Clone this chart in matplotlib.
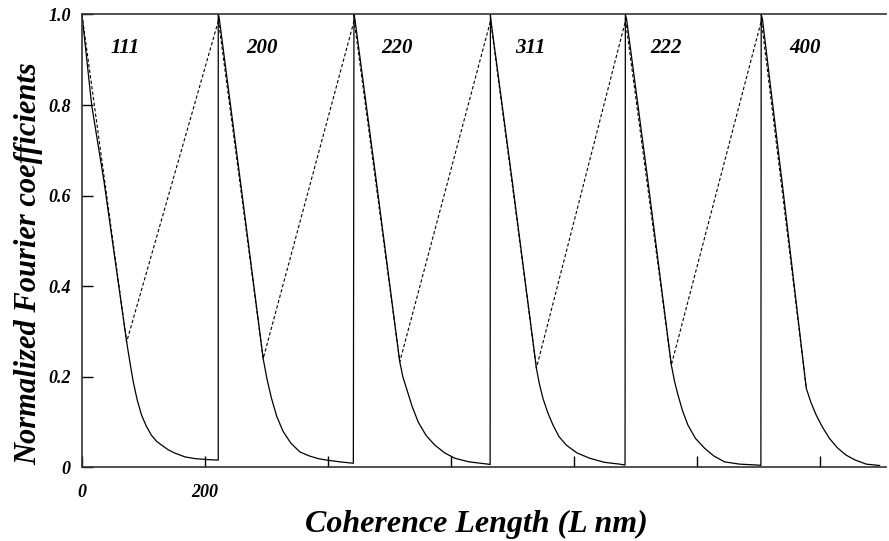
"""
Normalized Fourier coefficients vs. coherence length for six reflections
(111, 200, 220, 311, 222, 400), drawn one after another on a common axis.
"""
import matplotlib
matplotlib.use("Agg")
import matplotlib.pyplot as plt  # noqa: E402

# ---------------------------------------------------------------------
# Data (L in nm, coefficient normalized)
# ---------------------------------------------------------------------
reflexiones = ["111", "200", "220", "311", "222", "400"]

L_111 = [0, 15.8, 36, 72.7, 78, 83.4, 90, 97, 105, 113, 121, 129.6, 140, 150,
         167.5, 185, 205, 221.7]
A_111 = [1.0, 0.80, 0.63, 0.277, 0.232, 0.189, 0.148, 0.115, 0.090, 0.071, 0.058,
         0.049, 0.039, 0.032, 0.023, 0.019, 0.017, 0.016]

L_200 = [221.7, 223, 260, 294.8, 301, 308.4, 317, 327.3, 340, 354.5, 370, 385,
         397.9, 420, 441.5]
A_200 = [1.0, 0.995, 0.608, 0.24, 0.195, 0.152, 0.112, 0.079, 0.053, 0.034, 0.025,
         0.019, 0.016, 0.012, 0.009]

L_220 = [442.5, 444, 480, 517, 522, 528, 537, 547, 560, 574, 590, 606.5, 630,
         660.7, 664.0]
A_220 = [1.0, 0.99, 0.62, 0.233, 0.20, 0.174, 0.135, 0.10, 0.07, 0.049, 0.032,
         0.02, 0.012, 0.007, 0.006]

L_311 = [664.5, 665, 700, 739.3, 744, 750, 758, 766.4, 776, 788, 805, 826, 850,
         874.8, 883.5]
A_311 = [1.0, 0.99, 0.632, 0.219, 0.185, 0.152, 0.12, 0.093, 0.068, 0.049, 0.032,
         0.02, 0.011, 0.007, 0.005]

L_222 = [884, 886, 920, 958.8, 964, 969.6, 977, 985.9, 998, 1013, 1028, 1045.5,
         1070, 1099.7, 1104.5]
A_222 = [1.0, 0.99, 0.64, 0.226, 0.19, 0.16, 0.125, 0.093, 0.064, 0.042, 0.025,
         0.012, 0.007, 0.005, 0.004]

L_400 = [1105, 1107, 1140, 1178.4, 1186, 1194.6, 1205, 1216, 1229, 1243, 1258,
         1276, 1297.6]
A_400 = [1.0, 0.99, 0.618, 0.174, 0.143, 0.115, 0.088, 0.064, 0.043, 0.027, 0.016,
         0.007, 0.004]

# initial-slope (dashed) construction: peak -> hook point -> next peak
L_pico = [0, 221.7, 442.5, 664.5, 884, 1105]
A_pico = [1.0, 0.99, 0.99, 0.99, 0.99, 0.99]
L_gancho = [72.7, 294.8, 517, 739.3, 958.8, 1178.4]
A_gancho = [0.277, 0.24, 0.233, 0.219, 0.226, 0.174]

# label positions above each curve
L_etiqueta = [70, 293.5, 513, 730, 950.7, 1177]
A_etiqueta = [0.925, 0.925, 0.925, 0.925, 0.925, 0.925]

x_ticks = [0, 200, 400, 600, 800, 1000, 1200]
x_tick_labels = ["0", "200", "", "", "", "", ""]
y_ticks = [0, 0.2, 0.4, 0.6, 0.8, 1.0]
y_tick_labels = ["0", "0.2", "0.4", "0.6", "0.8", "1.0"]

# ---------------------------------------------------------------------
fuente = {"family": "Liberation Serif", "weight": "bold", "style": "italic"}

fig = plt.figure(figsize=(8.89, 5.41), dpi=100)
ax = fig.add_axes([0.0922, 0.1362, 0.9044, 0.837])

# solid curve: all segments concatenated (jumps become vertical lines)
L_total = L_111 + L_200 + L_220 + L_311 + L_222 + L_400
A_total = A_111 + A_200 + A_220 + A_311 + A_222 + A_400
ax.plot(L_total, A_total, color="black", linewidth=0.9, clip_on=False)

# dashed construction lines
for i in range(len(L_pico)):
    xs = [L_pico[i], L_gancho[i]]
    ys = [A_pico[i], A_gancho[i]]
    if i + 1 < len(L_pico):
        xs.append(L_pico[i + 1])
        ys.append(A_pico[i + 1] - 0.005)
    ax.plot(xs, ys, color="black", linewidth=0.8, linestyle=(0, (3, 2)))

for txt, x, y in zip(reflexiones, L_etiqueta, A_etiqueta):
    ax.text(x, y, txt, ha="center", va="center", fontsize=15, **fuente)

ax.set_xlim(0, 1308)
ax.set_ylim(0, 1.0)

ax.set_xticks(x_ticks)
ax.set_xticklabels(x_tick_labels, fontsize=13, **fuente)
ax.set_yticks(y_ticks)
ax.set_yticklabels(y_tick_labels, fontsize=13, **fuente)
ax.tick_params(axis="both", direction="in", length=8, width=1.0)
ax.tick_params(axis="x", pad=12)
ax.tick_params(axis="y", pad=8)

for lado in ["left", "bottom", "top"]:
    ax.spines[lado].set_linewidth(1.2)
    ax.spines[lado].set_color("#333333")
ax.spines["right"].set_visible(False)

ax.set_xlabel("Coherence Length (L nm)", fontsize=23, **fuente)
ax.xaxis.set_label_coords(0.49, -0.095)
ax.set_ylabel("Normalized Fourier coefficients", fontsize=22, **fuente)
ax.yaxis.set_label_coords(-0.048, 0.45)

fig.savefig("out.png", dpi=100)
plt.close(fig)
